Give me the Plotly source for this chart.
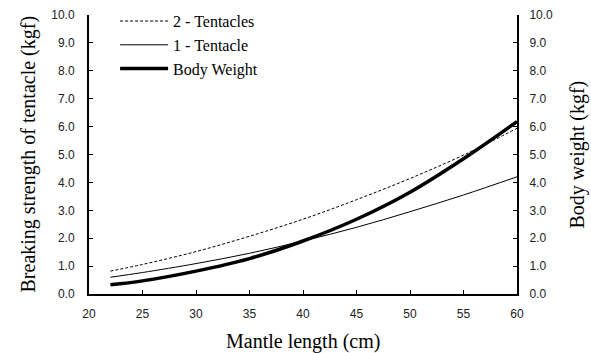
import plotly.graph_objects as go

# Mantle length (cm)
mantle_length = [22, 25, 30, 35, 40, 45, 50, 55, 60]
# Breaking strength of tentacles (kgf)
two_tentacles = [0.82, 1.06, 1.52, 2.07, 2.68, 3.38, 4.14, 4.98, 5.94]
one_tentacle = [0.60, 0.77, 1.09, 1.46, 1.90, 2.39, 2.95, 3.55, 4.20]
# Body weight (kgf)
body_weight = [0.33, 0.47, 0.82, 1.27, 1.90, 2.68, 3.65, 4.85, 6.18]

y_ticks = [0, 1, 2, 3, 4, 5, 6, 7, 8, 9, 10]
y_tick_text = [f"{v:.1f}" for v in y_ticks]
x_ticks = [20, 25, 30, 35, 40, 45, 50, 55, 60]

fig = go.Figure()
fig.add_trace(go.Scatter(
    x=mantle_length, y=two_tentacles, name="2 - Tentacles", mode="lines",
    line=dict(color="black", width=1, dash="3px,2px", shape="spline"),
))
fig.add_trace(go.Scatter(
    x=mantle_length, y=one_tentacle, name="1 - Tentacle", mode="lines",
    line=dict(color="black", width=1, shape="spline"),
))
fig.add_trace(go.Scatter(
    x=mantle_length, y=body_weight, name="Body Weight", mode="lines",
    line=dict(color="black", width=3.5, shape="spline"), yaxis="y2",
))

SERIF = "Liberation Serif"
tick_font = dict(family="Liberation Sans", size=12, color="#222")
title_font = dict(family=SERIF, size=20, color="black")

axis_common = dict(
    showgrid=False, zeroline=False, showline=True, linecolor="black", linewidth=2,
    ticks="inside", ticklen=4, tickwidth=1, tickcolor="black", tickfont=tick_font,
    automargin=False,
)

fig.update_layout(
    width=591, height=353,
    margin=dict(l=89, r=74, t=15, b=59, autoexpand=False),
    paper_bgcolor="white", plot_bgcolor="white",
    font=dict(family=SERIF),
    xaxis=dict(range=[20, 60], tickvals=x_ticks, ticklabelstandoff=8, **axis_common),
    yaxis=dict(range=[0, 10], tickvals=y_ticks, ticktext=y_tick_text,
               ticklabelstandoff=10, **axis_common),
    yaxis2=dict(range=[0, 10], tickvals=y_ticks, ticktext=y_tick_text,
                ticklabelstandoff=8, overlaying="y", side="right", **axis_common),
    showlegend=True,
    legend=dict(
        x=0.061, y=1.039, xanchor="left", yanchor="top",
        font=dict(family=SERIF, size=16, color="black"),
        bgcolor="rgba(0,0,0,0)", itemwidth=48, tracegroupgap=0,
    ),
)

# Axis titles placed relative to the plot area edges
fig.add_annotation(text="Mantle length (cm)", xref="paper", yref="paper",
                   x=0.5, y=0, xanchor="center", yanchor="middle", yshift=-47,
                   showarrow=False, font=title_font)
fig.add_annotation(text="Breaking strength of tentacle (kgf)", xref="paper", yref="paper",
                   x=0, y=0.5, xanchor="center", yanchor="middle", xshift=-61,
                   textangle=-90, showarrow=False, font=title_font)
fig.add_annotation(text="Body weight (kgf)", xref="paper", yref="paper",
                   x=1, y=0.5, xanchor="center", yanchor="middle", xshift=60,
                   textangle=-90, showarrow=False, font=title_font)

fig.write_html("out.html")
